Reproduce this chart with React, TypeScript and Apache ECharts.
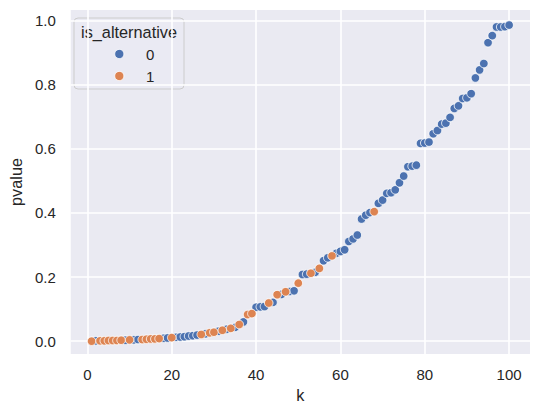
import React, { useEffect, useRef } from "react";
import * as echarts from "echarts";

const kValues = [
  1, 2, 3, 4, 5, 6, 7, 8, 9, 10, 11, 12, 13, 14, 15, 16, 17, 18, 19, 20,
  21, 22, 23, 24, 25, 26, 27, 28, 29, 30, 31, 32, 33, 34, 35, 36, 37, 38, 39, 40,
  41, 42, 43, 44, 45, 46, 47, 48, 49, 50, 51, 52, 53, 54, 55, 56, 57, 58, 59, 60,
  61, 62, 63, 64, 65, 66, 67, 68, 69, 70, 71, 72, 73, 74, 75, 76, 77, 78, 79, 80,
  81, 82, 83, 84, 85, 86, 87, 88, 89, 90, 91, 92, 93, 94, 95, 96, 97, 98, 99, 100,
];

const pValues = [
  0.000, 0.001, 0.001, 0.001, 0.002, 0.002, 0.002, 0.003, 0.003, 0.004,
  0.004, 0.005, 0.005, 0.006, 0.007, 0.007, 0.008, 0.009, 0.010, 0.011,
  0.012, 0.013, 0.014, 0.016, 0.017, 0.019, 0.021, 0.023, 0.026, 0.028,
  0.031, 0.034, 0.037, 0.040, 0.043, 0.052, 0.060, 0.083, 0.086, 0.106,
  0.107, 0.108, 0.119, 0.121, 0.145, 0.146, 0.154, 0.155, 0.157, 0.181,
  0.208, 0.209, 0.212, 0.215, 0.227, 0.251, 0.260, 0.266, 0.274, 0.280,
  0.285, 0.311, 0.319, 0.331, 0.381, 0.393, 0.401, 0.404, 0.430, 0.440,
  0.461, 0.463, 0.472, 0.494, 0.515, 0.544, 0.546, 0.549, 0.617, 0.618,
  0.621, 0.647, 0.657, 0.677, 0.680, 0.698, 0.726, 0.734, 0.757, 0.759,
  0.772, 0.821, 0.846, 0.866, 0.931, 0.953, 0.980, 0.980, 0.981, 0.986,
];

const isAlternative = [
  1, 0, 1, 1, 1, 1, 1, 1, 0, 1,
  0, 0, 1, 1, 1, 1, 1, 0, 0, 1,
  0, 0, 0, 0, 0, 0, 1, 0, 1, 1,
  0, 1, 0, 1, 0, 1, 0, 1, 1, 0,
  0, 0, 1, 0, 1, 0, 1, 0, 0, 1,
  0, 0, 1, 0, 1, 0, 0, 1, 0, 0,
  0, 0, 0, 0, 0, 0, 0, 1, 0, 0,
  0, 0, 0, 0, 0, 0, 0, 0, 0, 0,
  0, 0, 0, 0, 0, 0, 0, 0, 0, 0,
  0, 0, 0, 0, 0, 0, 0, 0, 0, 0,
];

const groupLabels = ["0", "1"];
const groupColors = ["#4C72B0", "#DD8452"];
const legendTitle = "is_alternative";
const xName = "k";
const yName = "pvalue";

const FONT = "'Liberation Sans', Arial, sans-serif";
const TEXT = "#262626";
const BG = "#EAEAF2";

export default function App() {
  const ref = useRef<HTMLDivElement>(null);

  useEffect(() => {
    if (!ref.current) return;
    const chart = echarts.init(ref.current, undefined, { renderer: "svg" });

    const series = groupLabels.map((label, g) => ({
      name: label,
      type: "scatter",
      symbol: "circle",
      symbolSize: 8.6,
      itemStyle: { color: groupColors[g], borderColor: "#ffffff", borderWidth: 0.8, opacity: 1 },
      data: kValues
        .map((k, i) => (isAlternative[i] === g ? [k, pValues[i]] : null))
        .filter((d) => d !== null),
      z: 3,
    }));

    const legendX = 73.5;
    const legendY = 17.5;

    chart.setOption({
      animation: false,
      backgroundColor: "#ffffff",
      textStyle: { fontFamily: FONT },
      grid: { left: 65.5, right: 10, top: 10, bottom: 60, show: true, backgroundColor: BG, borderWidth: 0 },
      xAxis: {
        type: "value",
        min: -3.95,
        max: 104.95,
        splitNumber: 5,
        name: xName,
        nameLocation: "middle",
        nameGap: 33,
        nameTextStyle: { fontSize: 16.3, color: TEXT, fontFamily: FONT },
        axisLine: { show: false },
        axisTick: { show: false },
        axisLabel: { color: TEXT, fontSize: 15, fontFamily: FONT, margin: 13, showMinLabel: false, showMaxLabel: false },
        splitLine: { show: true, showMinLine: false, showMaxLine: false, lineStyle: { color: "#ffffff", width: 1.6 } },
      },
      yAxis: {
        type: "value",
        min: -0.04,
        max: 1.033,
        splitNumber: 5,
        name: yName,
        nameLocation: "middle",
        nameGap: 40,
        nameTextStyle: { fontSize: 16.3, color: TEXT, fontFamily: FONT },
        axisLine: { show: false },
        axisTick: { show: false },
        axisLabel: {
          color: TEXT,
          fontSize: 15,
          fontFamily: FONT,
          margin: 15,
          showMinLabel: false,
          showMaxLabel: false,
          formatter: (v: number) => v.toFixed(1),
        },
        splitLine: { show: true, showMinLine: false, showMaxLine: false, lineStyle: { color: "#ffffff", width: 1.6 } },
      },
      series,
      graphic: [
        {
          type: "group",
          left: legendX,
          top: legendY,
          z: 100,
          children: [
            {
              type: "rect",
              shape: { x: 0, y: 0, width: 110, height: 71, r: 4 },
              style: { fill: "rgba(234,234,242,0.8)", stroke: "#cccccc", lineWidth: 1 },
            },
            {
              type: "text",
              x: 55,
              y: 13.5,
              style: {
                text: legendTitle,
                fill: TEXT,
                fontSize: 16.3,
                fontFamily: FONT,
                textAlign: "center",
                textVerticalAlign: "middle",
              },
            },
            ...groupLabels.flatMap((label, g) => [
              {
                type: "circle",
                shape: { cx: 45.3, cy: 36 + g * 22, r: 4.6 },
                style: { fill: groupColors[g], stroke: "#ffffff", lineWidth: 0.8 },
              },
              {
                type: "text",
                x: 72,
                y: 36 + g * 22,
                style: {
                  text: label,
                  fill: TEXT,
                  fontSize: 15,
                  fontFamily: FONT,
                  textAlign: "left",
                  textVerticalAlign: "middle",
                },
              },
            ]),
          ],
        },
      ],
    });

    return () => chart.dispose();
  }, []);

  return (
    <div
      ref={ref}
      style={{ position: "fixed", left: 0, top: 0, width: 540, height: 414, background: "#ffffff" }}
    />
  );
}
